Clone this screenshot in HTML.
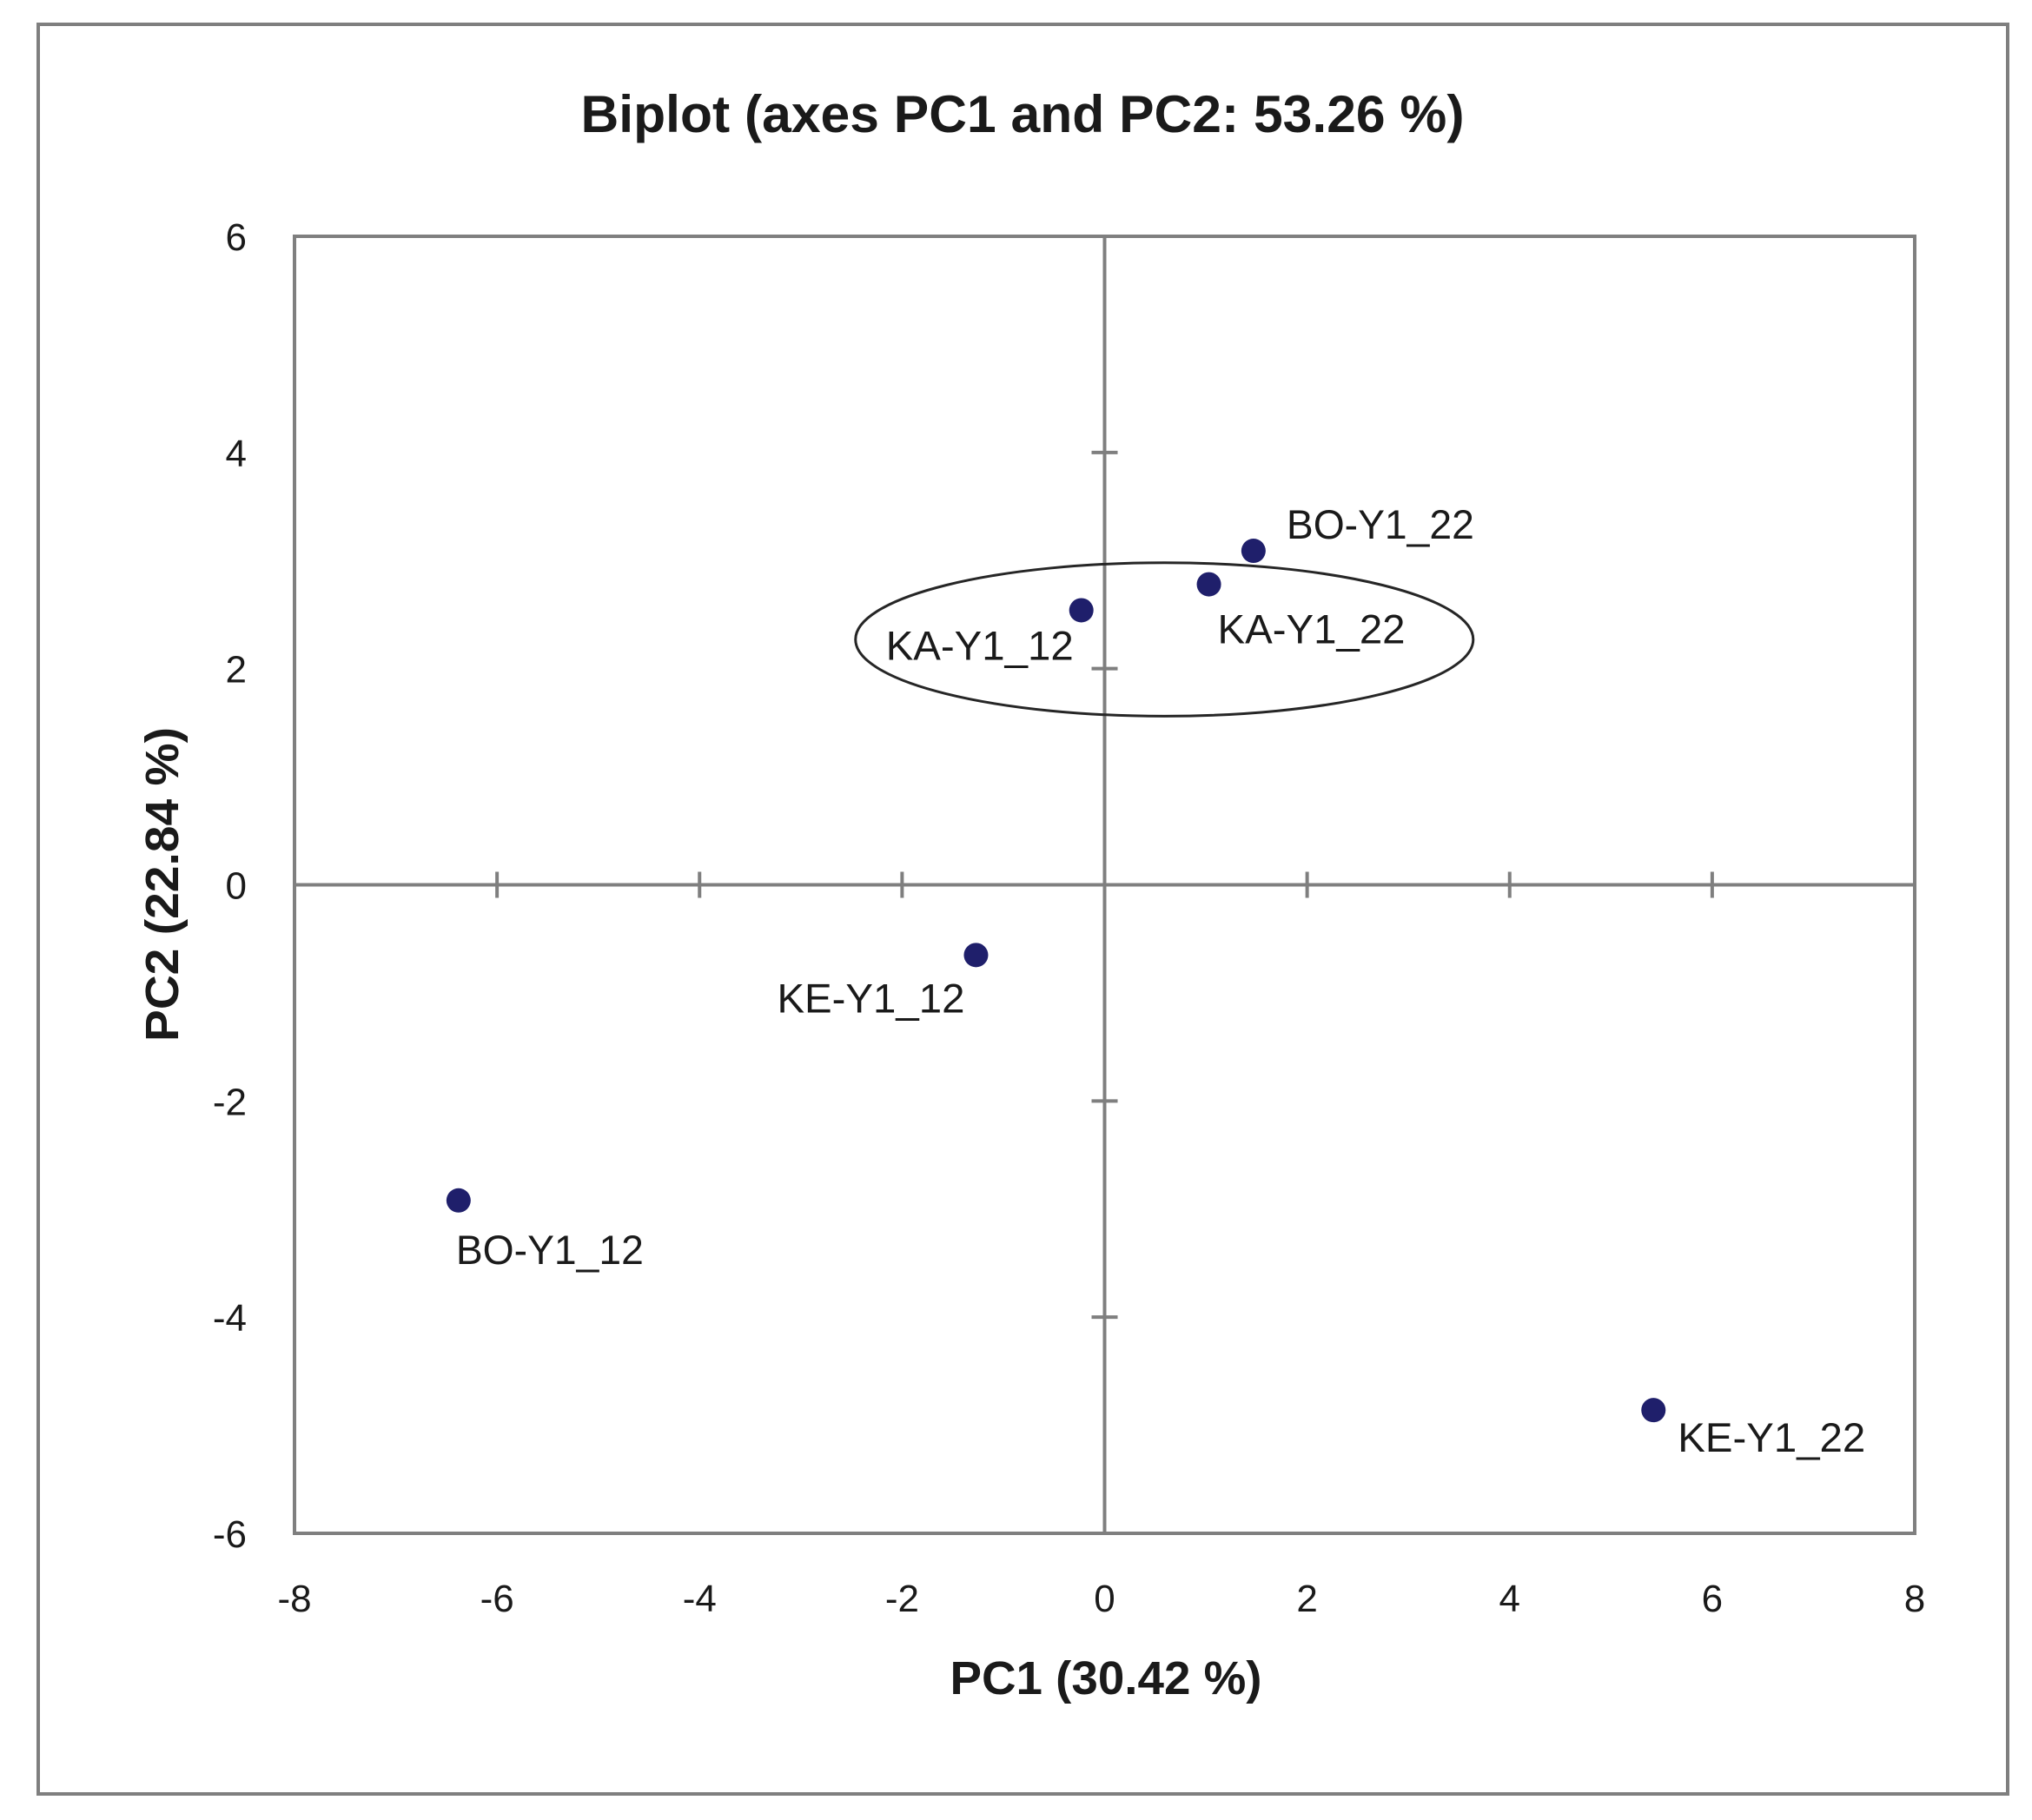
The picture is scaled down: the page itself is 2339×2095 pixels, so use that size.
<!DOCTYPE html>
<html><head><meta charset="utf-8"><style>
html,body{margin:0;padding:0;background:#fff;}
svg{display:block;}
text{font-family:"Liberation Sans",sans-serif;fill:#1a1a1a;}
</style></head>
<body>
<svg id="chart" width="2339" height="2095" viewBox="0 0 2339 2095">
<rect x="44" y="28" width="2267" height="2037" fill="#fff" stroke="#7f7f7f" stroke-width="4"/>
<text x="1177" y="152" text-anchor="middle" font-size="60" font-weight="bold" textLength="1017" lengthAdjust="spacingAndGlyphs">Biplot (axes PC1 and PC2: 53.26 %)</text>
<rect x="339" y="272" width="1865" height="1493" fill="none" stroke="#7f7f7f" stroke-width="4"/>
<g id="axes"></g>
<ellipse id="ell" fill="none" stroke="#262626" stroke-width="3"/>
<g id="points"></g>
<text x="1273" y="1950" text-anchor="middle" font-size="54" font-weight="bold" textLength="359" lengthAdjust="spacingAndGlyphs">PC1 (30.42 %)</text>
<text transform="translate(205,1018) rotate(-90)" text-anchor="middle" font-size="54" font-weight="bold" textLength="362" lengthAdjust="spacingAndGlyphs">PC2 (22.84 %)</text>
</svg>
<script>
const labels = ["BO-Y1_22","KA-Y1_22","KA-Y1_12","KE-Y1_12","BO-Y1_12","KE-Y1_22"];
const pc1 = [1.47, 1.03, -0.23, -1.27, -6.38, 5.42];
const pc2 = [3.09, 2.78, 2.54, -0.65, -2.92, -4.86];
const xTicks = [-8,-6,-4,-2,0,2,4,6,8];
const yTicks = [-6,-4,-2,0,2,4,6];
const ellipseCenter = [0.59, 2.27];
const ellipseRadii = [3.05, 0.71];
// label offsets in px (layout, not data)
const offs = [[38,-14],[10,68],[-225,57],[-229,66],[-3,73],[28,48]];

const X0=339,X1=2204,Y0=1765,Y1=272;
const sx=v=>X0+(v+8)/16*(X1-X0);
const sy=v=>Y0-(v+6)/12*(Y0-Y1);
const NS="http://www.w3.org/2000/svg";
function mk(tag,attrs,parent){const e=document.createElementNS(NS,tag);for(const k in attrs)e.setAttribute(k,attrs[k]);parent.appendChild(e);return e;}
const ax=document.getElementById('axes');
let l=mk('line',{x1:X0,x2:X1,y1:sy(0),y2:sy(0),stroke:'#7f7f7f','stroke-width':4},ax);


l=mk('line',{x1:sx(0),x2:sx(0),y1:Y1,y2:Y0,stroke:'#7f7f7f','stroke-width':4},ax);


xTicks.forEach(v=>{
  if(v>-8&&v<8&&v!==0){const t=mk('line',{x1:sx(v),x2:sx(v),y1:sy(0)-15,y2:sy(0)+15,stroke:'#7f7f7f','stroke-width':4},ax);
  
  }
  const tx=mk('text',{x:sx(v),y:1855,'text-anchor':'middle','font-size':44},ax);tx.textContent=v;
  
  
});
yTicks.forEach(v=>{
  if(v>-6&&v<6&&v!==0){const t=mk('line',{x1:sx(0)-15,x2:sx(0)+15,y1:sy(v),y2:sy(v),stroke:'#7f7f7f','stroke-width':4},ax);
  
  }
  const tx=mk('text',{x:284,y:sy(v)+16,'text-anchor':'end','font-size':44},ax);tx.textContent=v;
  
  
});
const el=document.getElementById('ell');
el.setAttribute('cx',sx(ellipseCenter[0]));el.setAttribute('cy',sy(ellipseCenter[1]));
el.setAttribute('rx',ellipseRadii[0]*(X1-X0)/16);el.setAttribute('ry',ellipseRadii[1]*(Y0-Y1)/12);
const pg=document.getElementById('points');
labels.forEach((n,i)=>{
  const c=mk('circle',{cx:sx(pc1[i]),cy:sy(pc2[i]),r:14,fill:'#1f1f6b'},pg);
  
  
  const t=mk('text',{x:sx(pc1[i])+offs[i][0],y:sy(pc2[i])+offs[i][1],'font-size':47,textLength:216,lengthAdjust:'spacingAndGlyphs'},pg);
  t.textContent=n;
  
  
});
</script>
</body></html>
